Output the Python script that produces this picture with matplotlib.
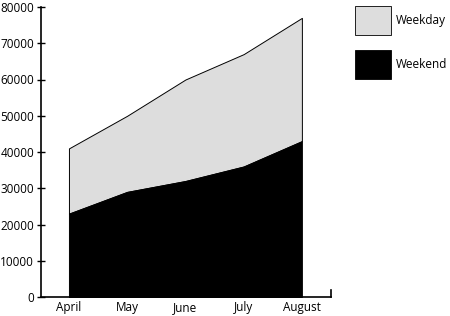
import matplotlib
matplotlib.use("Agg")
import matplotlib.pyplot as plt
from matplotlib.patches import Rectangle
import numpy as np

months = ["April", "May", "June", "July", "August"]
weekend = [23000, 29000, 32000, 36000, 43000]
weekday = [18000, 21000, 28000, 31000, 34000]
series_labels = ["Weekday", "Weekend"]
series_colors = ["#dddddd", "#000000"]
yticks = [0, 10000, 20000, 30000, 40000, 50000, 60000, 70000, 80000]

plt.rcParams['font.family'] = ['Open Sans', 'DejaVu Sans']

fig = plt.figure(figsize=(4.5, 3.16), dpi=100)
ax = fig.add_axes([41/450, 19/316, 290/450, 290/316])

x = np.arange(len(months))
we = np.array(weekend)
top = we + np.array(weekday)
ax.fill_between(x, we, top, facecolor=series_colors[0], edgecolor="black", linewidth=0.7)
ax.fill_between(x, 0, we, facecolor=series_colors[1], edgecolor="black", linewidth=0.7)

ax.set_xlim(-0.48, 4.5)
ax.set_ylim(0, 80000)
ax.set_yticks(yticks)
ax.set_yticklabels([str(v) for v in yticks], fontsize=8.5)
ax.set_xticks(x)
ax.set_xticklabels(months, fontsize=8.5)
ax.tick_params(axis='x', length=0, pad=3)
ax.tick_params(axis='y', direction='inout', length=6, width=1, pad=2)
for s in ["top", "right"]:
    ax.spines[s].set_visible(False)
for s in ["left", "bottom"]:
    ax.spines[s].set_linewidth(1.2)
# end cap tick on x axis
ax.plot([4.5, 4.5], [0, 2000], color="black", linewidth=1.2, clip_on=False)

# legend
for i, (lab, col) in enumerate(zip(series_labels, series_colors)):
    y0 = 1 - (35 + i * 44) / 316
    fig.add_artist(Rectangle((355/450, y0), 36/450, 29/316, facecolor=col,
                             edgecolor="black", linewidth=0.6, transform=fig.transFigure))
    fig.text(396/450, y0 + 14.5/316, lab, fontsize=8.5, va="center", ha="left")

fig.savefig("out.png", dpi=100)
